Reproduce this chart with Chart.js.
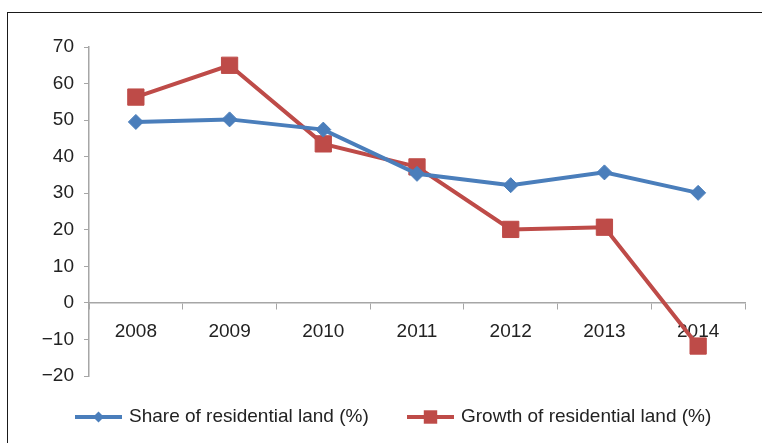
<!DOCTYPE html>
<html>
<head>
  <title>Residential land share and growth</title>
  <script src="https://cdn.jsdelivr.net/npm/chart.js@4.4.0/dist/chart.umd.min.js"></script>
  <style>
    body { margin: 0; background: #fff; overflow: hidden; }
    #frame {
      position: absolute; left: 7px; top: 12px;
      width: 800px; height: 500px;
      border: 1.5px solid #1a1a1a;
    }
    #wrap { position: absolute; left: 0; top: 0; width: 762px; height: 443px; }
  </style>
</head>
<body>
  <div id="frame"></div>
  <div id="wrap"><canvas id="myChart" width="762" height="443"></canvas></div>
  <script>
    // data
    var years = ['2008', '2009', '2010', '2011', '2012', '2013', '2014'];
    var shareValues = [49.5, 50.2, 47.4, 35.3, 32.2, 35.7, 30.1];
    var growthValues = [56.3, 65.0, 43.5, 37.2, 20.1, 20.7, -11.8];
    var seriesNames = ['Share of residential land (%)', 'Growth of residential land (%)'];

    var blue = '#4a7ebb';
    var red = '#be4b48';
    var fontFamily = '"Liberation Sans", Arial, sans-serif';

    // legend drawn under the chart: line + marker + text
    var legendStart = [75, 407];
    var lineLegend = {
      id: 'lineLegend',
      afterDraw: function(chart) {
        var ctx = chart.ctx;
        var y = 417;
        ctx.save();
        chart.data.datasets.forEach(function(ds, i) {
          var x0 = legendStart[i];
          ctx.strokeStyle = ds.borderColor;
          ctx.lineWidth = 4;
          ctx.beginPath();
          ctx.moveTo(x0, y);
          ctx.lineTo(x0 + 47, y);
          ctx.stroke();
          ctx.fillStyle = ds.pointBackgroundColor;
          Chart.helpers.drawPoint(ctx, {
            pointStyle: ds.pointStyle,
            rotation: 0,
            radius: ds.pointStyle === 'rect' ? 9.5 : 5.5,
            borderWidth: 0
          }, x0 + 23.5, y);
          ctx.fillStyle = '#222';
          ctx.font = '19px ' + fontFamily;
          ctx.textBaseline = 'middle';
          ctx.textAlign = 'left';
          ctx.fillText(ds.label, x0 + 54, y);
        });
        ctx.restore();
      }
    };

    var ctx = document.getElementById('myChart').getContext('2d');
    var myChart = new Chart(ctx, {
      type: 'line',
      data: {
        labels: years,
        datasets: [{
          label: seriesNames[0],
          data: shareValues,
          borderColor: blue,
          backgroundColor: blue,
          pointBackgroundColor: blue,
          pointBorderColor: blue,
          pointStyle: 'rectRot',
          pointRadius: 7.5,
          pointBorderWidth: 1,
          borderWidth: 4,
          tension: 0
        }, {
          label: seriesNames[1],
          data: growthValues,
          borderColor: red,
          backgroundColor: red,
          pointBackgroundColor: red,
          pointBorderColor: red,
          pointStyle: 'rect',
          pointRadius: 11.5,
          pointBorderWidth: 1,
          borderWidth: 4,
          tension: 0
        }]
      },
      options: {
        responsive: false,
        animation: false,
        layout: { padding: { left: 0, right: 17, top: 47, bottom: 67 } },
        plugins: {
          legend: { display: false },
          tooltip: { enabled: false }
        },
        scales: {
          x: {
            position: { y: 0 },
            offset: true,
            grid: {
              offset: true,
              drawOnChartArea: false,
              color: '#a6a6a6',
              tickLength: 6
            },
            border: { color: '#a6a6a6', width: 1.5 },
            ticks: {
              color: '#222',
              font: { family: fontFamily, size: 19 },
              padding: 11,
              maxRotation: 0
            }
          },
          y: {
            min: -20,
            max: 70,
            afterFit: function(scale) { scale.width = 89; },
            grid: {
              drawOnChartArea: false,
              color: '#a6a6a6',
              tickLength: 5
            },
            border: { color: '#a6a6a6', width: 1.5 },
            ticks: {
              stepSize: 10,
              color: '#222',
              font: { family: fontFamily, size: 19 },
              padding: 10,
              callback: function(v) { return v < 0 ? '\u2212' + Math.abs(v) : v; }
            }
          }
        }
      },
      plugins: [lineLegend]
    });
  </script>
</body>
</html>
